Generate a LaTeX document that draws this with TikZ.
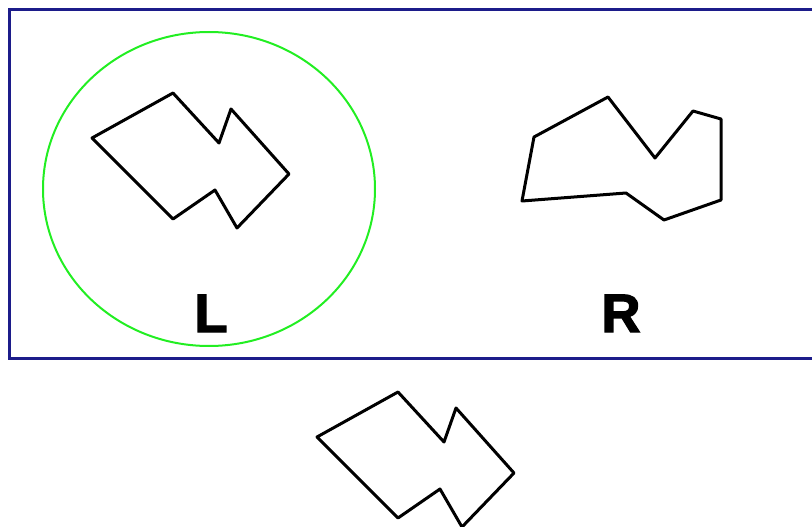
\documentclass[tikz,border=0pt]{standalone}
\usepackage{fontspec}
\newfontfamily\labelfont[FakeBold=2.5]{Liberation Sans Bold}
\definecolor{boxblue}{HTML}{1C1C8A}
\definecolor{ringgreen}{HTML}{22EE22}
\begin{document}
\begin{tikzpicture}[x=1pt,y=-1pt,
  shapeline/.style={draw=black,line width=3pt,line join=round},
  lbl/.style={font=\labelfont\fontsize{54}{54}\selectfont,inner sep=0pt,anchor=base}]
\useasboundingbox (0,0) rectangle (812,527);
\draw[boxblue,line width=3pt] (830,9.5) -- (9.5,9.5) -- (9.5,358.5) -- (830,358.5);
\draw[ringgreen,line width=2pt] (209,189) ellipse [x radius=166, y radius=157];
\draw[shapeline] (92,138) -- (173,93) -- (219,143) -- (231,109) -- (289,174) -- (237,228) -- (215,190) -- (173,219) -- cycle;
\draw[shapeline] (534,137) -- (608,97) -- (655,158) -- (693,111) -- (721,119) -- (721,200) -- (664,220) -- (626,193) -- (522,201) -- cycle;
\draw[shapeline] (317,437) -- (398,392) -- (444,442) -- (456,408) -- (514,473) -- (462,527) -- (440,489) -- (398,518) -- cycle;
\node[lbl] (L) at (211,332) {L};
\node[lbl] (R) at (621,332) {R};
\end{tikzpicture}
\end{document}
